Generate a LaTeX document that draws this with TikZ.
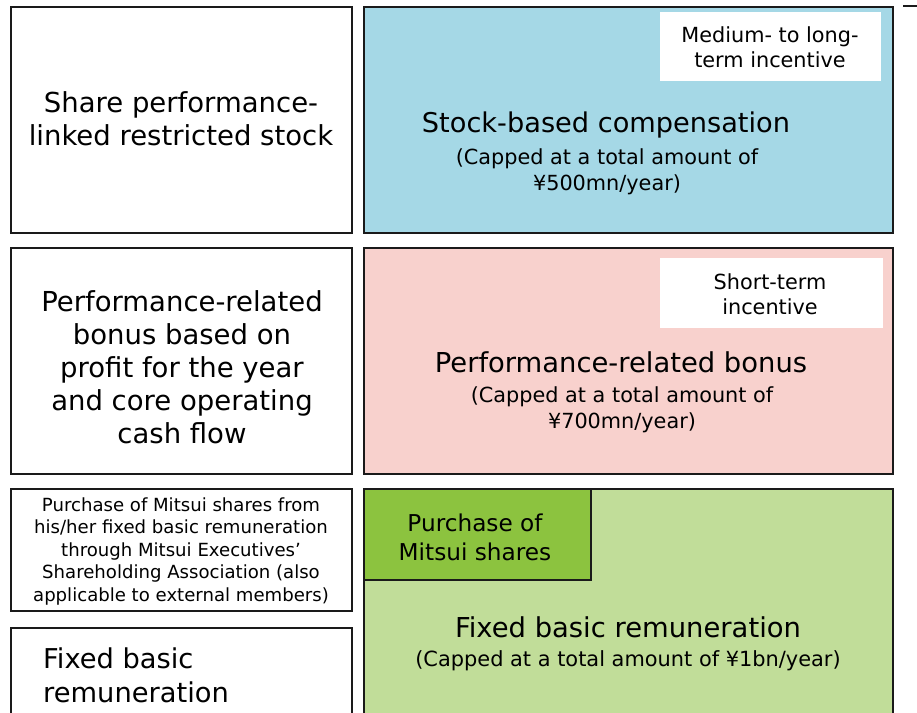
\documentclass[tikz,border=0pt]{standalone}
\usepackage{fontspec}
\setmainfont{DejaVu Sans}
\definecolor{bluefill}{HTML}{A5D8E6}
\definecolor{pinkfill}{HTML}{F8D1CD}
\definecolor{lgreen}{HTML}{C1DD99}
\definecolor{dgreen}{HTML}{8CC33F}
\definecolor{edge}{HTML}{1A1A1A}
\tikzset{
  box/.style={draw=edge, line width=1.8pt, anchor=north west, inner sep=0pt, outer sep=0pt},
  tagbox/.style={fill=white, anchor=north west, inner sep=0pt},
  txt/.style={align=center, inner sep=0pt, text=black},
}
\begin{document}
\begin{tikzpicture}[x=1pt,y=-1pt]
\useasboundingbox (0,0) rectangle (917,712);
\begin{scope}
\clip (0,0) rectangle (917,712);
% left column
\node[box, minimum width=341, minimum height=226] (l1) at (11,7) {};
\node[box, minimum width=341, minimum height=226] (l2) at (11,248) {};
\node[box, minimum width=341, minimum height=122] (l3) at (11,489) {};
\node[box, minimum width=341, minimum height=120] (l4) at (11,628) {};
% right column
\node[box, fill=bluefill, minimum width=529, minimum height=226] (r1) at (364,7) {};
\node[box, fill=pinkfill, minimum width=529, minimum height=226] (r2) at (364,248) {};
\node[box, fill=lgreen, minimum width=529, minimum height=260] (r3) at (364,489) {};
\node[box, fill=dgreen, minimum width=227, minimum height=91] (r3a) at (364,489) {};
% tag boxes
\node[tagbox, minimum width=221, minimum height=69] (t1) at (660,12) {};
\node[tagbox, minimum width=223, minimum height=70] (t2) at (660,258) {};
\end{scope}
\draw[line width=1.5pt, draw=edge] (903,6) coordinate (m1) -- (917,6) coordinate (m2);

% texts
\node[txt, font=\fontsize{27.5}{33}\selectfont] (a1) at (181,119) {Share performance-\\linked restricted stock};
\node[txt, font=\fontsize{27.5}{33}\selectfont] (a2) at (182,367) {Performance-related\\bonus based on\\profit for the year\\and core operating\\cash flow};
\node[txt, font=\fontsize{18.1}{22.5}\selectfont] (a3) at (181,551) {Purchase of Mitsui shares from\\his/her fixed basic remuneration\\through Mitsui Executives’\\Shareholding Association (also\\applicable to external members)};
\node[txt, align=left, anchor=west, font=\fontsize{27.3}{34}\selectfont] (a4) at (43,675) {Fixed basic\\remuneration};

\node[txt, font=\fontsize{27.2}{30}\selectfont] (b1) at (606,125) {Stock-based compensation};
\node[txt, font=\fontsize{20.8}{26}\selectfont] (b1s) at (607,172) {(Capped at a total amount of\\¥500mn/year)};
\node[txt, font=\fontsize{20.8}{25}\selectfont] (c1) at (770,47) {Medium- to long-\\term incentive};

\node[txt, font=\fontsize{27.4}{30}\selectfont] (b2) at (621,362) {Performance-related bonus};
\node[txt, font=\fontsize{20.8}{26}\selectfont] (b2s) at (622,410) {(Capped at a total amount of\\¥700mn/year)};
\node[txt, font=\fontsize{20.8}{25}\selectfont] (c2) at (770,294) {Short-term\\incentive};

\node[txt, font=\fontsize{23.2}{29}\selectfont] (d1) at (475,537) {Purchase of\\Mitsui shares};
\node[txt, font=\fontsize{27.4}{30}\selectfont] (b3) at (628,627) {Fixed basic remuneration};
\node[txt, font=\fontsize{20.9}{26}\selectfont] (b3s) at (628,661) {(Capped at a total amount of ¥1bn/year)};
\end{tikzpicture}
\end{document}
